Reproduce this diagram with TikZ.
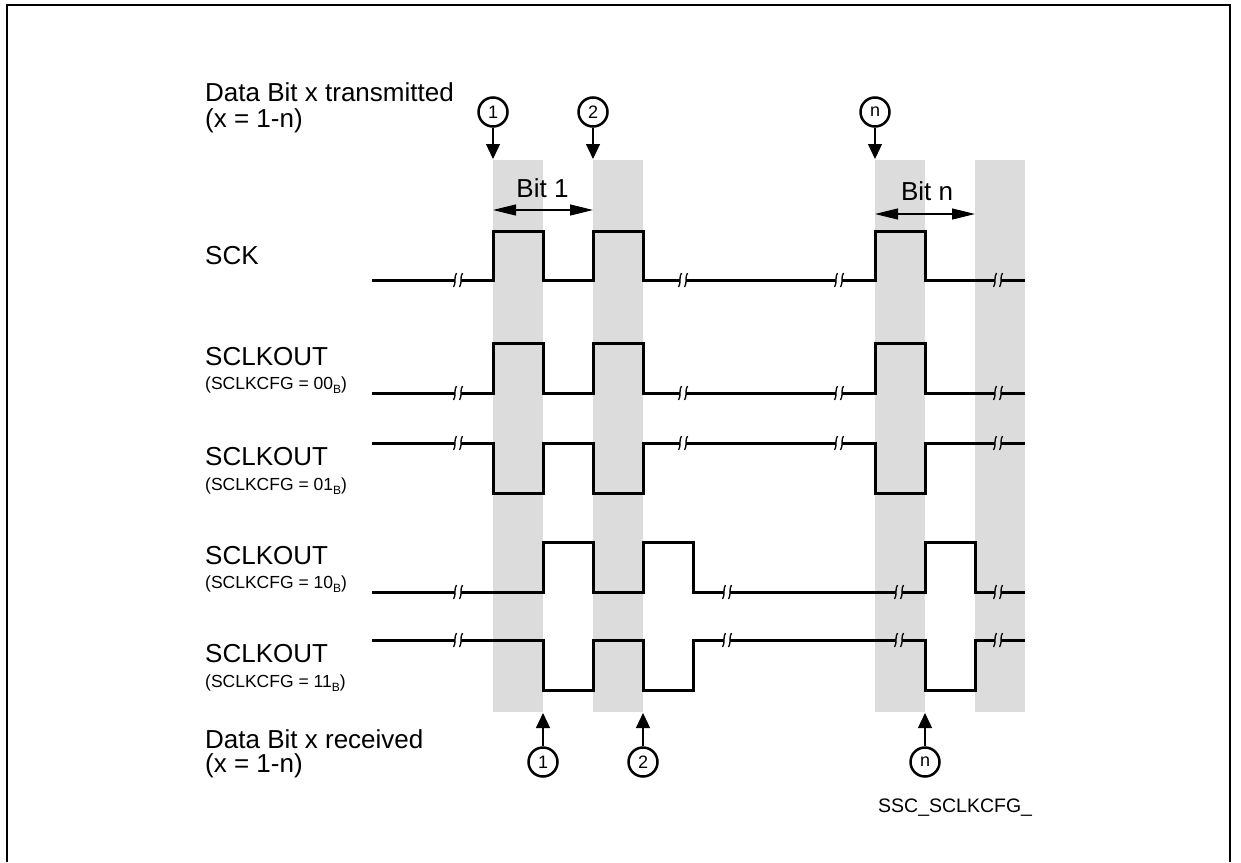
\documentclass[tikz,border=0pt]{standalone}
\usepackage{fontspec}
\setmainfont{Liberation Sans}
\usetikzlibrary{arrows.meta}
\definecolor{bandgray}{RGB}{220,220,220}
\newcommand\subB{\raisebox{-4pt}{\fontsize{12}{12}\selectfont B}}
\newcommand\brkmark[2]{%
  \draw[brkst] (#1-1.5,#2-7) .. controls (#1-4.5,#2-3) and (#1-1.5,#2+3) .. (#1-4.5,#2+7);
  \draw[brkst] (#1+4.5,#2-7) .. controls (#1+1.5,#2-3) and (#1+4.5,#2+3) .. (#1+1.5,#2+7);}
\begin{document}
\begin{tikzpicture}[x=1pt,y=-1pt,
  sig/.style={line width=3pt, line join=miter},
  brkst/.style={line width=1.3pt},
  num/.style={circle, draw, line width=2.5pt, minimum size=29pt, inner sep=0pt, font=\fontsize{18}{18}\selectfont},
  lbl/.style={anchor=base west, inner sep=0pt, font=\fontsize{26}{30}\selectfont},
  sublbl/.style={anchor=base west, inner sep=0pt, font=\fontsize{17.5}{20}\selectfont},
  ptr/.style={line width=1.2pt, -{Triangle[length=15pt,width=14pt]}},
  spanarr/.style={line width=1.2pt, {Triangle[length=23pt,width=11pt]}-{Triangle[length=23pt,width=11pt]}},
]
\useasboundingbox (0,0) rectangle (1241,862);
% frame
\draw[line width=2pt] (7,862) -- (7,5) -- (1230,5) -- (1230,862);
% bands
\fill[bandgray] (493,160) rectangle (543,712);
\fill[bandgray] (593,160) rectangle (643,712);
\fill[bandgray] (875,160) rectangle (925,712);
\fill[bandgray] (975,160) rectangle (1025,712);
% SCK
\draw[sig] (372,280) -- (455,280)
  (461,280) -- (493,280) -- (493,231) -- (543,231) -- (543,280) -- (593,280) -- (593,231) -- (643,231) -- (643,280) -- (680,280)
  (686,280) -- (836,280)
  (842,280) -- (875,280) -- (875,231) -- (925,231) -- (925,280) -- (995,280)
  (1001,280) -- (1025,280);
\brkmark{458}{280}\brkmark{683}{280}\brkmark{839}{280}\brkmark{998}{280}
% SCLKOUT 00
\draw[sig] (372,393) -- (455,393)
  (461,393) -- (493,393) -- (493,343) -- (543,343) -- (543,393) -- (593,393) -- (593,343) -- (643,343) -- (643,393) -- (680,393)
  (686,393) -- (836,393)
  (842,393) -- (875,393) -- (875,343) -- (925,343) -- (925,393) -- (995,393)
  (1001,393) -- (1025,393);
\brkmark{458}{393}\brkmark{683}{393}\brkmark{839}{393}\brkmark{998}{393}
% SCLKOUT 01
\draw[sig] (372,443) -- (455,443)
  (461,443) -- (493,443) -- (493,493) -- (543,493) -- (543,443) -- (593,443) -- (593,493) -- (643,493) -- (643,443) -- (680,443)
  (686,443) -- (836,443)
  (842,443) -- (875,443) -- (875,493) -- (925,493) -- (925,443) -- (995,443)
  (1001,443) -- (1025,443);
\brkmark{458}{443}\brkmark{683}{443}\brkmark{839}{443}\brkmark{998}{443}
% SCLKOUT 10
\draw[sig] (372,592) -- (455,592)
  (461,592) -- (543,592) -- (543,542) -- (593,542) -- (593,592) -- (643,592) -- (643,542) -- (693,542) -- (693,592) -- (724,592)
  (730,592) -- (896,592)
  (902,592) -- (925,592) -- (925,542) -- (975,542) -- (975,592) -- (995,592)
  (1001,592) -- (1025,592);
\brkmark{458}{592}\brkmark{727}{592}\brkmark{899}{592}\brkmark{998}{592}
% SCLKOUT 11
\draw[sig] (372,640) -- (455,640)
  (461,640) -- (543,640) -- (543,690) -- (593,690) -- (593,640) -- (643,640) -- (643,690) -- (693,690) -- (693,640) -- (724,640)
  (730,640) -- (896,640)
  (902,640) -- (925,640) -- (925,690) -- (975,690) -- (975,640) -- (995,640)
  (1001,640) -- (1025,640);
\brkmark{458}{640}\brkmark{727}{640}\brkmark{899}{640}\brkmark{998}{640}
% top markers
\node[num] (t1) at (493,112) {1};
\node[num] (t2) at (593,112) {2};
\node[num] (tn) at (875,112) {n};
\coordinate (t1e) at (493,159);
\coordinate (t2e) at (593,159);
\coordinate (tne) at (875,159);
\draw[ptr] (t1) -- (t1e);
\draw[ptr] (t2) -- (t2e);
\draw[ptr] (tn) -- (tne);
% bottom markers
\node[num] (b1) at (543,762) {1};
\node[num] (b2) at (643,762) {2};
\node[num] (bn) at (925,762) {n};
\coordinate (b1e) at (543,713);
\coordinate (b2e) at (643,713);
\coordinate (bne) at (925,713);
\draw[ptr] (b1) -- (b1e);
\draw[ptr] (b2) -- (b2e);
\draw[ptr] (bn) -- (bne);
% bit spans
\coordinate (s1a) at (493,210);
\coordinate (s1b) at (593,210);
\coordinate (sna) at (875,214);
\coordinate (snb) at (975,214);
\draw[spanarr] (s1a) -- (s1b);
\draw[spanarr] (sna) -- (snb);
\node[lbl, anchor=base] (bit1) at (542.5,197) {Bit 1};
\node[lbl, anchor=base] (bitn) at (927,200) {Bit n};
% labels
\node[lbl] (tx1) at (205,101.5) {Data Bit x transmitted};
\node[lbl] (tx2) at (205,127) {(x = 1-n)};
\node[lbl] (lsck) at (205,264) {SCK};
\node[lbl] (l00) at (205,365) {SCLKOUT};
\node[sublbl] (s00) at (205,389) {(SCLKCFG = 00\subB)};
\node[lbl] (l01) at (205,465) {SCLKOUT};
\node[sublbl] (s01) at (205,490) {(SCLKCFG = 01\subB)};
\node[lbl] (l10) at (205,564) {SCLKOUT};
\node[sublbl] (s10) at (205,588) {(SCLKCFG = 10\subB)};
\node[lbl] (l11) at (205,662) {SCLKOUT};
\node[sublbl] (s11) at (205,687) {(SCLKCFG = 11\subB)};
\node[lbl] (rx1) at (205,748) {Data Bit x received};
\node[lbl] (rx2) at (205,772) {(x = 1-n)};
\node[anchor=base west, inner sep=0pt, font=\fontsize{19.5}{22}\selectfont] (fig) at (878,812) {SSC\_SCLKCFG\_};
\end{tikzpicture}
\end{document}
